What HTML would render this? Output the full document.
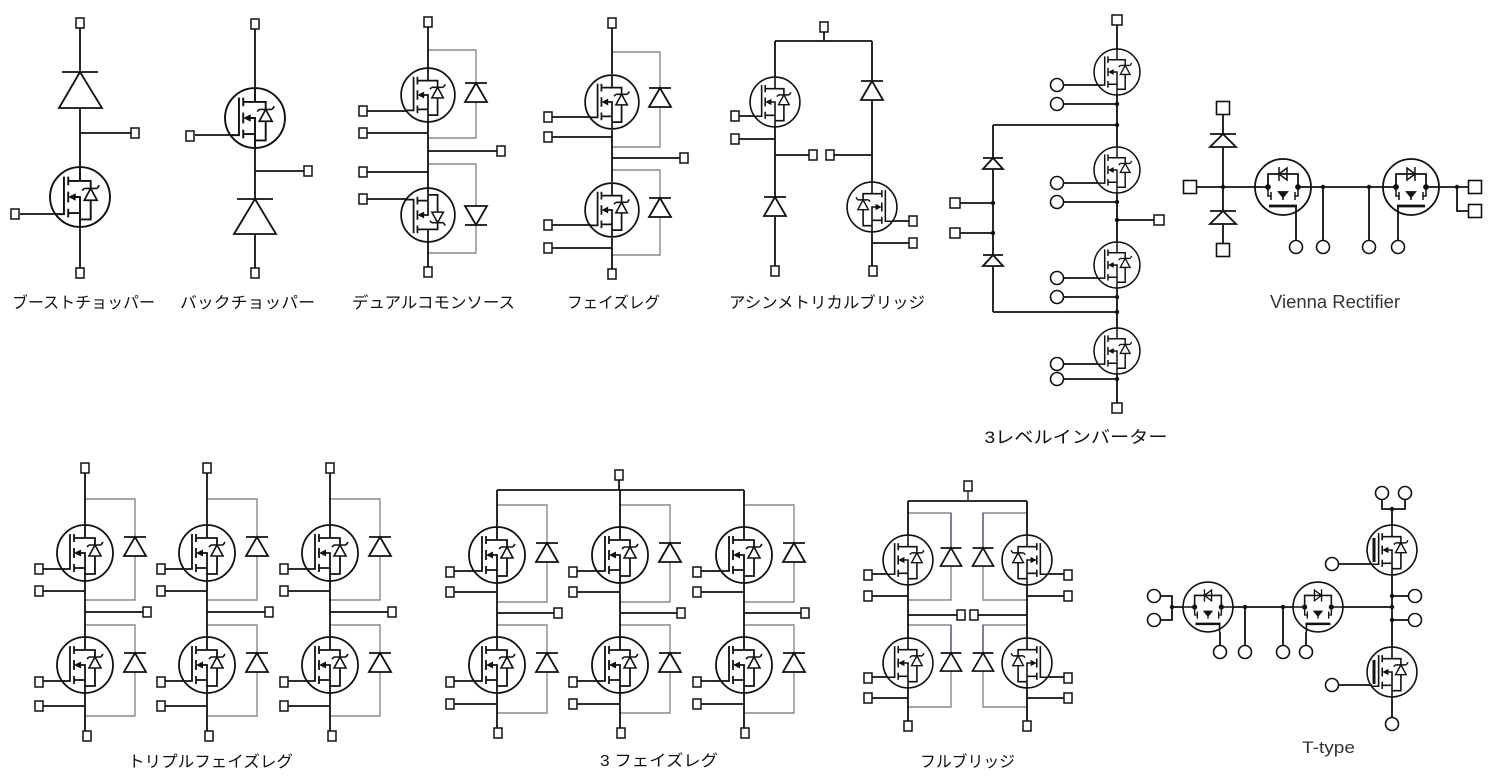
<!DOCTYPE html>
<html><head><meta charset="utf-8">
<style>
html,body{margin:0;padding:0;background:#fff}
svg{display:block}
.k{fill:none;stroke:#111;stroke-width:1.8}
.g{fill:none;stroke:#8a8a8a;stroke-width:1.4}
.t{font-family:"Liberation Sans","Noto Sans CJK JP",sans-serif;font-size:16px;fill:#111}
.e{font-family:"Liberation Sans",sans-serif;font-size:18px;fill:#333}
</style></head>
<body>
<svg width="1500" height="783" viewBox="0 0 1500 783" xmlns="http://www.w3.org/2000/svg">
<defs>
<g id="M" fill="none" stroke="#111" stroke-width="1.8">
  <circle r="28"/>
  <path d="M-15,-19V16H-23"/>
  <path d="M-11,-19V-11M-11,-5V5M-11,11V19"/>
  <path d="M0,-28V-15H-11M-11,15H0V28M-5,0H0V15M0,-15H10V-8M10,3V21H0"/>
  <path d="M4,-8H16M4,-8l-2,2M16,-8l2,-3M10,-8L4,3H16Z" stroke-width="1.6"/>
  <path d="M-11,0L-4,-3.5V3.5Z" fill="#111" stroke="none"/>
</g>
<g id="H" fill="none" stroke="#111" stroke-width="1.8">
  <circle r="28"/>
  <path d="M-28,0H-15M15,0H28M-15,0V-13H15V0"/>
  <path d="M-4,-20V-6M-4,-13L4,-19V-7Z" stroke-width="1.5"/>
  <path d="M-15,0V9H-12M15,0V9H12M-12,5V13M0,5V13M12,5V13" stroke-width="1.5"/>
  <path d="M-4,5H4L0,10Z" fill="#111"/>
  <path d="M-14,19H14" stroke-width="2.8"/>
  <path d="M13,19V28"/>
  <circle cx="-15" cy="0" r="2" fill="#111"/><circle cx="15" cy="0" r="2" fill="#111"/>
</g>
<rect id="s" x="-4" y="-5" width="8" height="10" fill="#fff" stroke="#111" stroke-width="1.5"/>
<rect id="q" x="-5" y="-5" width="10" height="10" fill="#fff" stroke="#111" stroke-width="1.5"/>
<rect id="b" x="-6.5" y="-6.5" width="13" height="13" fill="#fff" stroke="#111" stroke-width="1.6"/>
<circle id="c" r="6.5" fill="#fff" stroke="#111" stroke-width="1.6"/>
<circle id="p" r="2.2" fill="#111"/>
<path id="d" d="M-11,0H11M0,0L-11,19H11Z" fill="none" stroke="#111" stroke-width="1.8"/>

<g id="T">
  <path fill="none" stroke="#8a8a8a" stroke-width="1.4" d="M0,499H50V537M50,556V600H0M0,625H50V653M50,672V716H0"/>
  <path fill="none" stroke="#111" stroke-width="1.8" d="M0,473V525M0,581V637M0,693V731M-42,591H0M-42,706H0M0,612H58M-42,569H-23M-42,681H-23"/>
  <use href="#d" x="50" y="537"/>
  <use href="#d" x="50" y="653"/>
  <use href="#M" transform="translate(0,553)"/>
  <use href="#M" transform="translate(0,665)"/>
  <use href="#s" x="0" y="468"/>
  <use href="#s" x="-46" y="569"/>
  <use href="#s" x="-46" y="591"/>
  <use href="#s" x="62" y="612"/>
  <use href="#s" x="-46" y="682"/>
  <use href="#s" x="-46" y="706"/>
  <use href="#s" x="2" y="736"/>
</g>

<g id="P">
  <path fill="none" stroke="#8a8a8a" stroke-width="1.4" d="M0,505H50V543M50,562V602H0M0,625H50V653M50,672V713H0"/>
  <path fill="none" stroke="#111" stroke-width="1.8" d="M0,490V527M0,583V637M0,693V728M-43,571H-23M-43,592H0M0,613H57M-43,681H-23M-43,704H0"/>
  <use href="#d" x="50" y="543"/>
  <use href="#d" x="50" y="653"/>
  <use href="#M" transform="translate(0,555)"/>
  <use href="#M" transform="translate(0,665)"/>
  <use href="#s" x="-47" y="572"/>
  <use href="#s" x="-47" y="592"/>
  <use href="#s" x="61" y="613"/>
  <use href="#s" x="-47" y="682"/>
  <use href="#s" x="-47" y="704"/>
  <use href="#s" x="1" y="733"/>
</g>
</defs>

<!-- Boost chopper -->
<path class="k" d="M80,28V72M80,108V167M80,133H131M80,227V268M20,214H56"/>
<path class="k" d="M62,72H98M80,72L59,108H102Z"/>
<use href="#M" transform="translate(80,197) scale(1.07)"/>
<use href="#s" x="80" y="23"/>
<use href="#s" x="135" y="133"/>
<use href="#s" x="15" y="214"/>
<use href="#s" x="80" y="273"/>

<!-- Buck chopper -->
<path class="k" d="M255,29V88M255,148V199M255,171H304M255,234V268M195,135H231"/>
<path class="k" d="M237,199H273M255,199L234,234H276Z"/>
<use href="#M" transform="translate(255,118) scale(1.07)"/>
<use href="#s" x="255" y="24"/>
<use href="#s" x="308" y="171"/>
<use href="#s" x="190" y="136"/>
<use href="#s" x="255" y="273"/>

<!-- Dual common source -->
<path class="g" d="M428,50H476V83M476,102V138H428M428,164H476V206M476,225V253H428"/>
<path class="k" d="M428,27V68M428,122V188M428,242V267M367,111H407M367,133H428M428,151H497M367,172H428M367,199H407"/>
<use href="#d" transform="translate(476,83)"/>
<use href="#d" transform="translate(476,225) scale(1,-1)"/>
<use href="#M" transform="translate(428,95) scale(.96)"/>
<use href="#M" transform="translate(428,215) scale(.96,-.96)"/>
<use href="#s" x="428" y="22"/>
<use href="#s" x="363" y="111"/>
<use href="#s" x="363" y="133"/>
<use href="#s" x="501" y="151"/>
<use href="#s" x="363" y="172"/>
<use href="#s" x="363" y="199"/>
<use href="#s" x="428" y="272"/>

<!-- Phase leg -->
<path class="g" d="M612,52H660V88M660,107V147H612M612,170H660V198M660,217V255H612"/>
<path class="k" d="M612,28V74M612,130V182M612,238V269M552,117H591M552,137H612M612,158H680M552,225H591M552,248H612"/>
<use href="#d" transform="translate(660,88)"/>
<use href="#d" transform="translate(660,198)"/>
<use href="#M" transform="translate(612,102) scale(.96)"/>
<use href="#M" transform="translate(612,210) scale(.96)"/>
<use href="#s" x="612" y="23"/>
<use href="#s" x="548" y="117"/>
<use href="#s" x="548" y="137"/>
<use href="#s" x="684" y="158"/>
<use href="#s" x="548" y="225"/>
<use href="#s" x="548" y="248"/>
<use href="#s" x="612" y="274"/>

<!-- Asymmetrical bridge -->
<path class="k" d="M824,32V41M775,41H872M775,41V77M775,127V197M775,216V266M739,116H755M739,139H775M775,155H809M834,155H872M872,41V81M872,100V182M872,232V266M893,221H909M872,243H909"/>
<use href="#d" transform="translate(775,197)"/>
<use href="#d" transform="translate(872,81)"/>
<use href="#M" transform="translate(775,102) scale(.89)"/>
<use href="#M" transform="translate(872,207) scale(-.89,.89)"/>
<use href="#s" x="824" y="27"/>
<use href="#s" x="735" y="116"/>
<use href="#s" x="735" y="139"/>
<use href="#s" x="813" y="155"/>
<use href="#s" x="830" y="155"/>
<use href="#s" x="775" y="271"/>
<use href="#s" x="913" y="221"/>
<use href="#s" x="913" y="243"/>
<use href="#s" x="873" y="271"/>

<!-- 3-level inverter -->
<path class="k" d="M1117,25V49M1117,95V147M1117,193V242M1117,288V328M1117,374V403M993,125H1117M993,312H1117M993,125V158M993,169V255M993,266V312M960,203H993M960,233H993M1117,220H1154M1063,104H1117M1063,202H1117M1063,297H1117M1063,379H1117M1063,85H1098M1063,183H1098M1063,278H1098M1063,364H1098"/>
<path class="k" d="M983,158H1003M993,158L983,169H1003Z M983,255H1003M993,255L983,266H1003Z"/>
<use href="#M" transform="translate(1117,72) scale(.82)"/>
<use href="#M" transform="translate(1117,170) scale(.82)"/>
<use href="#M" transform="translate(1117,265) scale(.82)"/>
<use href="#M" transform="translate(1117,351) scale(.82)"/>
<use href="#p" x="1117" y="104"/><use href="#p" x="1117" y="125"/><use href="#p" x="1117" y="202"/>
<use href="#p" x="1117" y="220"/><use href="#p" x="1117" y="297"/><use href="#p" x="1117" y="312"/>
<use href="#p" x="1117" y="379"/><use href="#p" x="993" y="203"/><use href="#p" x="993" y="233"/>
<use href="#c" x="1057" y="85"/><use href="#c" x="1057" y="104"/>
<use href="#c" x="1057" y="183"/><use href="#c" x="1057" y="202"/>
<use href="#c" x="1057" y="278"/><use href="#c" x="1057" y="297"/>
<use href="#c" x="1057" y="364"/><use href="#c" x="1057" y="379"/>
<use href="#q" x="1117" y="20"/>
<use href="#q" x="955" y="203"/>
<use href="#q" x="955" y="233"/>
<use href="#q" x="1159" y="220"/>
<use href="#q" x="1117" y="408"/>

<!-- Vienna rectifier -->
<path class="k" d="M1223,115V134M1223,147V211M1223,224V244M1197,187H1255M1311,187H1383M1439,187H1468M1457,187V211H1468M1296,215V240M1323,187V240M1369,187V240M1398,215V240"/>
<path class="k" d="M1210,134H1236M1223,134L1210,147H1236Z M1210,211H1236M1223,211L1210,224H1236Z"/>
<use href="#H" transform="translate(1283,187)"/>
<use href="#H" transform="translate(1411,187) scale(-1,1)"/>
<use href="#p" x="1223" y="187"/><use href="#p" x="1323" y="187"/>
<use href="#p" x="1369" y="187"/><use href="#p" x="1457" y="187"/>
<use href="#c" x="1296" y="247"/><use href="#c" x="1323" y="247"/>
<use href="#c" x="1369" y="247"/><use href="#c" x="1398" y="247"/>
<use href="#b" x="1223" y="108"/>
<use href="#b" x="1190" y="187"/>
<use href="#b" x="1223" y="250"/>
<use href="#b" x="1475" y="187"/>
<use href="#b" x="1475" y="211"/>

<!-- Triple phase leg -->
<use href="#T" x="85"/>
<use href="#T" x="207"/>
<use href="#T" x="330"/>

<!-- 3 phase leg -->
<path class="k" d="M619,480V490M497,490H744"/>
<use href="#s" x="619" y="475"/>
<use href="#P" x="497"/>
<use href="#P" x="620"/>
<use href="#P" x="744"/>

<!-- Full bridge -->
<path class="g" d="M908,513H951V548M951,566V600H908M1027,513H983V548M983,566V600H1027M908,625H951V653M951,671V707H908M1027,625H983V653M983,671V707H1027"/>
<path class="g" style="stroke:#5a5a9a" d="M951,513V548M983,513V548M951,625V653M983,625V653"/>
<path class="k" d="M908,501H1027M908,501V535M1027,501V535M908,585V638M1027,585V638M908,688V721M1027,688V721M872,574H887M872,596H908M1048,574H1064M1027,596H1064M908,615H957M978,615H1027M872,677H887M872,698H908M1048,677H1064M1027,698H1064"/>
<path fill="none" stroke="#445" stroke-width="1.6" d="M968,491V501"/>
<use href="#d" transform="translate(951,548) scale(.95)"/>
<use href="#d" transform="translate(983,548) scale(.95)"/>
<use href="#d" transform="translate(951,653) scale(.95)"/>
<use href="#d" transform="translate(983,653) scale(.95)"/>
<use href="#M" transform="translate(908,560) scale(.89)"/>
<use href="#M" transform="translate(1027,560) scale(-.89,.89)"/>
<use href="#M" transform="translate(908,663) scale(.89)"/>
<use href="#M" transform="translate(1027,663) scale(-.89,.89)"/>
<use href="#s" x="968" y="486"/>
<use href="#s" x="868" y="575"/><use href="#s" x="868" y="596"/>
<use href="#s" x="1068" y="575"/><use href="#s" x="1068" y="596"/>
<use href="#s" x="961" y="615"/><use href="#s" x="974" y="615"/>
<use href="#s" x="868" y="678"/><use href="#s" x="868" y="698"/>
<use href="#s" x="1068" y="678"/><use href="#s" x="1068" y="698"/>
<use href="#s" x="908" y="726"/><use href="#s" x="1027" y="726"/>

<!-- T-type -->
<path class="k" d="M1382,500V509H1405V500M1392,509V525M1392,575V647M1392,697V717M1392,596H1408M1392,620H1408M1339,564H1372M1339,685H1372M1161,596H1172V620H1161M1172,607H1183M1233,607H1293M1343,607H1392M1245,607V645M1283,607V645M1220,632V645M1306,632V645"/>
<use href="#M" transform="translate(1392,550) scale(.89)"/>
<use href="#M" transform="translate(1392,672) scale(.89)"/>
<path class="k" d="M1374,538V562M1374,660V684" style="stroke-width:3"/>
<use href="#H" transform="translate(1208,607) scale(.89)"/>
<use href="#H" transform="translate(1318,607) scale(-.89,.89)"/>
<use href="#p" x="1392" y="509"/><use href="#p" x="1392" y="596"/>
<use href="#p" x="1392" y="607"/><use href="#p" x="1392" y="620"/>
<use href="#p" x="1172" y="607"/><use href="#p" x="1245" y="607"/>
<use href="#p" x="1283" y="607"/>
<use href="#c" x="1382" y="493"/><use href="#c" x="1405" y="493"/>
<use href="#c" x="1332" y="564"/><use href="#c" x="1415" y="596"/>
<use href="#c" x="1415" y="620"/><use href="#c" x="1332" y="685"/>
<use href="#c" x="1392" y="724"/><use href="#c" x="1154" y="596"/>
<use href="#c" x="1154" y="620"/><use href="#c" x="1220" y="652"/>
<use href="#c" x="1245" y="652"/><use href="#c" x="1283" y="652"/>
<use href="#c" x="1306" y="652"/>

<!-- Labels -->
<text class="t" x="83.5" y="308" text-anchor="middle" textLength="143" lengthAdjust="spacingAndGlyphs">ブーストチョッパー</text>
<text class="t" x="247.5" y="308" text-anchor="middle" textLength="135" lengthAdjust="spacingAndGlyphs">バックチョッパー</text>
<text class="t" x="433.5" y="308" text-anchor="middle" textLength="163" lengthAdjust="spacingAndGlyphs">デュアルコモンソース</text>
<text class="t" x="613.5" y="308" text-anchor="middle" textLength="93" lengthAdjust="spacingAndGlyphs">フェイズレグ</text>
<text class="t" x="827" y="308" text-anchor="middle" textLength="196" lengthAdjust="spacingAndGlyphs">アシンメトリカルブリッジ</text>
<text class="t" x="1076" y="443" text-anchor="middle" textLength="183" lengthAdjust="spacingAndGlyphs" style="font-size:17px">3レベルインバーター</text>
<text class="e" x="1335" y="308" text-anchor="middle" textLength="130" lengthAdjust="spacingAndGlyphs">Vienna Rectifier</text>
<text class="t" x="210.5" y="767" text-anchor="middle" textLength="165" lengthAdjust="spacingAndGlyphs">トリプルフェイズレグ</text>
<text class="t" x="659" y="766" text-anchor="middle" textLength="118" lengthAdjust="spacingAndGlyphs">3 フェイズレグ</text>
<text class="t" x="967.5" y="767" text-anchor="middle" textLength="95" lengthAdjust="spacingAndGlyphs">フルブリッジ</text>
<text class="e" x="1328.5" y="753" text-anchor="middle" textLength="53" lengthAdjust="spacingAndGlyphs" style="font-size:17px">T-type</text>
</svg>
</body></html>
